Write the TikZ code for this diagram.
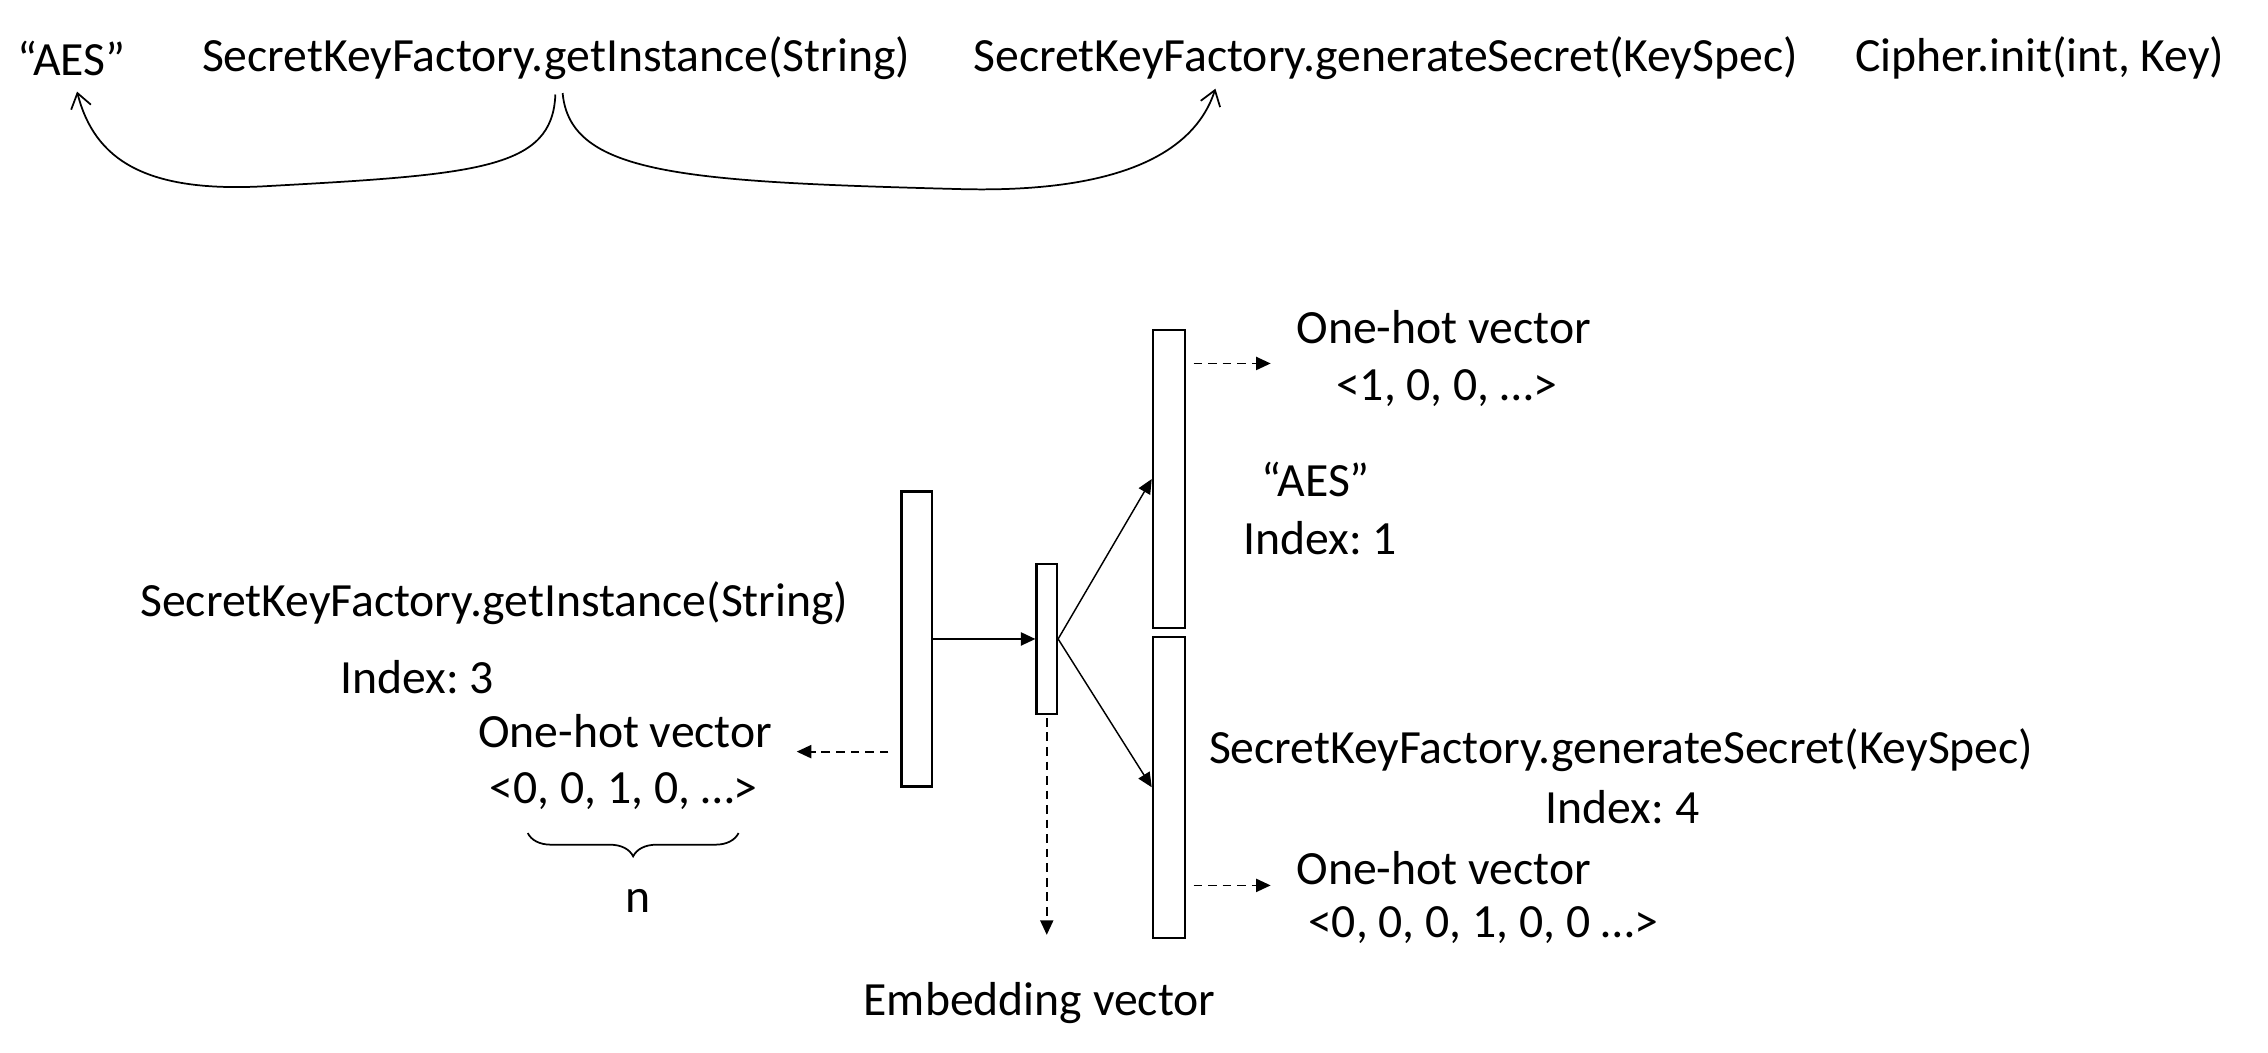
\documentclass[tikz,border=0pt]{standalone}
\usepackage{fontspec}
\setmainfont{Carlito}
\usetikzlibrary{arrows.meta}
\usetikzlibrary{decorations.pathreplacing}
\frenchspacing

\begin{document}
\begin{tikzpicture}[x=0.5pt, y=-0.5pt,
    every node/.style={font=\fontsize{16.4}{19}\selectfont, inner sep=0pt},
    vecbox/.style={draw, line width=0.8pt, inner sep=0pt},
    solidtip/.style={-{Triangle[length=5pt, width=4.5pt]}},
    dasharrow/.style={solidtip, dash pattern=on 3pt off 2pt, line width=0.6pt},
    callcurve/.style={-{Straight Barb[length=5pt, width=7pt]}, line width=0.6pt}]
    \useasboundingbox (0,0) rectangle (1560,723.6);

    % the call sequence on top
    \node (topaes) at (49,40) {“AES”};
    \node (topget) at (382.5,40) {SecretKeyFactory.getInstance(String)};
    \node (topgen) at (953,40) {SecretKeyFactory.generateSecret(KeySpec)};
    \node (topciph) at (1403,40) {Cipher.init(int, Key)};

    \coordinate (getl) at (382,65);
    \coordinate (getr) at (387,64);
    \coordinate (aesin) at (53,63);
    \coordinate (genin) at (836,61);
    % two bends out of getInstance
    \draw [callcurve] (getl) .. controls (380,116) and (330,120) .. (184,128)
        .. controls (100,133) and (65,110) .. (aesin);
    \draw [callcurve] (getr) .. controls (392,120) and (470,125) .. (658,130)
        .. controls (760,133) and (820,110) .. (genin);

    % the vectors
    \node [vecbox, minimum width=10.5pt, minimum height=101.5pt] (inbox) at (630.5,439.5) {};
    \node [vecbox, minimum width=7pt, minimum height=51.5pt] (embbox) at (720,439.5) {};
    \node [vecbox, minimum width=11pt, minimum height=102.5pt] (upbox) at (804,329.5) {};
    \node [vecbox, minimum width=11pt, minimum height=103.5pt] (lowbox) at (804,541.5) {};

    \draw [solidtip, line width=0.7pt] (inbox) -- (embbox);
    \draw [solidtip, line width=0.5pt] (embbox.east) -- (upbox.west);
    \draw [solidtip, line width=0.5pt] (embbox.east) -- (lowbox.west);

    \coordinate (upfrom) at (821,250);
    \coordinate (upto) at (874,250);
    \coordinate (lowfrom) at (821,609);
    \coordinate (lowto) at (874,609);
    \coordinate (infrom) at (611,517);
    \coordinate (into) at (548,517);
    \coordinate (embto) at (720,643);
    \draw [dasharrow] (upfrom) -- (upto);
    \draw [dasharrow] (lowfrom) -- (lowto);
    \draw [dasharrow] (infrom) -- (into);
    \draw [dasharrow] ([yshift=-1pt]embbox.south) -- (embto);

    % labels
    \node (oh1) at (993,225) {One-hot vector};
    \node (oh1v) at (995,267) {<1, 0, 0, …>};
    \node (aes) at (905,330) {“AES”};
    \node (idx1) at (908,370) {Index: 1};
    \node (get) at (340,415) {SecretKeyFactory.getInstance(String)};
    \node (idx3) at (287,466) {Index: 3};
    \node (oh3) at (430,503) {One-hot vector};
    \node (oh3v) at (429,544) {<0, 0, 1, 0, …>};
    \draw [decorate, decoration={brace, mirror, amplitude=8pt}, line width=0.6pt]
        (363,573) -- (508,573);
    \node (n) at (439,620) {n};
    \node (emb) at (715,690) {Embedding vector};
    \node (gen) at (1115,516) {SecretKeyFactory.generateSecret(KeySpec)};
    \node (idx4) at (1116,555) {Index: 4};
    \node (oh4) at (993,597) {One-hot vector};
    \node (oh4v) at (1020,636) {<0, 0, 0, 1, 0, 0 …>};
\end{tikzpicture}
\end{document}
